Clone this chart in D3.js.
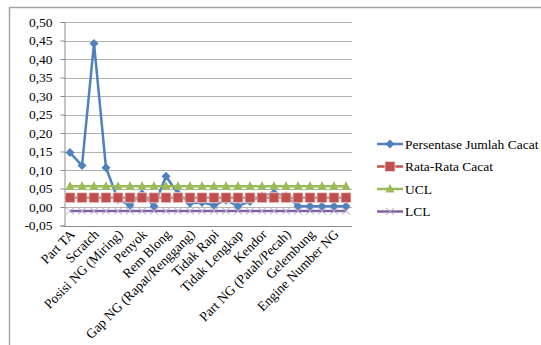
<!DOCTYPE html>
<html>
<head>
<meta charset="utf-8">
<script src="https://cdn.jsdelivr.net/npm/d3@7"></script>
<style>
  html, body { margin: 0; padding: 0; background: #fff; }
  svg { display: block; }
  svg text { font-family: "Liberation Serif", "DejaVu Serif", "Times New Roman", Times, serif !important; fill: #000; }
</style>
</head>
<body>
<svg id="chart" width="541" height="345"></svg>
<script>
// Defect categories (x axis)
const categories = [
  "Part TA", "Part TA 2", "Scratch", "Scratch 2", "Posisi NG (Miring)", "Posisi NG 2",
  "Penyok", "Penyok 2", "Rem Blong", "Rem Blong 2", "Gap NG (Rapat/Renggang)", "Gap NG 2",
  "Tidak Rapi", "Tidak Rapi 2", "Tidak Lengkap", "Tidak Lengkap 2", "Kendor", "Kendor 2",
  "Part NG (Patah/Pecah)", "Part NG 2", "Gelembung", "Gelembung 2", "Engine Number NG", "Engine Number NG 2"
];
// Only every other category carries a visible label
const shownLabels = ["Part TA", "Scratch", "Posisi NG (Miring)", "Penyok", "Rem Blong",
  "Gap NG (Rapat/Renggang)", "Tidak Rapi", "Tidak Lengkap", "Kendor",
  "Part NG (Patah/Pecah)", "Gelembung", "Engine Number NG"];

// Series values
const persentase = [0.147, 0.112, 0.442, 0.106, 0.020, 0.005, 0.036, 0.002, 0.083, 0.036, 0.010, 0.012,
                    0.005, 0.018, 0.003, 0.015, 0.030, 0.038, 0.030, 0.003, 0.002, 0.002, 0.002, 0.002];
const rataRata = categories.map(() => 0.025);
const ucl = categories.map(() => 0.056);
const lcl = categories.map(() => -0.011);

const yTicks = [-0.05, 0, 0.05, 0.10, 0.15, 0.20, 0.25, 0.30, 0.35, 0.40, 0.45, 0.50];

const series = [
  { name: "Persentase Jumlah Cacat", values: persentase, color: "#4f81bd", marker: "diamond" },
  { name: "Rata-Rata Cacat", values: rataRata, color: "#c0504d", marker: "square" },
  { name: "UCL", values: ucl, color: "#9bbb59", marker: "triangle" },
  { name: "LCL", values: lcl, color: "#8064a2", marker: "x" }
];

const FONT = "Liberation Serif";
const svg = d3.select("#chart");

// Outer chart frame
svg.append("rect")
  .attr("x", 9.5).attr("y", 7.5).attr("width", 600).attr("height", 400)
  .attr("fill", "#fff").attr("stroke", "#a6a6a6").attr("stroke-width", 1.5);

const plot = { left: 64, right: 352, top: 22, bottom: 225.5 };

const x = d3.scaleBand().domain(categories).range([plot.left, plot.right]);
const y = d3.scaleLinear().domain([-0.05, 0.5]).range([plot.bottom, plot.top]);
const cx = d => x(d) + x.bandwidth() / 2;

const fmt = v => d3.format(".2f")(v).replace(".", ",").replace("−", "-");

// Horizontal gridlines
svg.append("g").selectAll("line").data(yTicks).join("line")
  .attr("x1", plot.left).attr("x2", plot.right)
  .attr("y1", d => Math.round(y(d)) + 0.5).attr("y2", d => Math.round(y(d)) + 0.5)
  .attr("stroke", "#b3b3b3").attr("stroke-width", 1);

// Y axis
const yAxis = d3.axisLeft(y).tickValues(yTicks).tickFormat(fmt).tickSize(4).tickPadding(8);
const yg = svg.append("g").attr("transform", `translate(${plot.left + 0.5},0)`).call(yAxis)
  .attr("font-family", FONT);
yg.select(".domain").attr("stroke", "#8c8c8c");
yg.selectAll(".tick line").attr("stroke", "#8c8c8c");
yg.selectAll(".tick text").attr("font-size", 13.5).attr("font-family", FONT);

// X axis line at the bottom of the plot
svg.append("line")
  .attr("x1", plot.left).attr("x2", plot.right)
  .attr("y1", Math.round(plot.bottom) + 0.5).attr("y2", Math.round(plot.bottom) + 0.5)
  .attr("stroke", "#8c8c8c");

// Rotated category labels
svg.append("g").selectAll("text").data(categories.filter(c => shownLabels.includes(c))).join("text")
  .attr("transform", d => `translate(${cx(d) - 1},${plot.bottom + 3}) rotate(-45)`)
  .attr("text-anchor", "end")
  .attr("dy", "0.7em")
  .attr("font-family", FONT)
  .attr("font-size", 13.5)
  .text(d => d);

// Marker shapes
function drawMarker(g, type, color, px, py) {
  if (type === "diamond") {
    g.append("path").attr("d", `M${px},${py - 4.5}L${px + 4.5},${py}L${px},${py + 4.5}L${px - 4.5},${py}Z`)
      .attr("fill", color);
  } else if (type === "square") {
    g.append("rect").attr("x", px - 5).attr("y", py - 5).attr("width", 10).attr("height", 10)
      .attr("fill", color).attr("stroke", "#f2dcdb").attr("stroke-width", 0.8);
  } else if (type === "triangle") {
    g.append("path").attr("d", `M${px},${py - 5}L${px + 4.5},${py + 3.5}L${px - 4.5},${py + 3.5}Z`)
      .attr("fill", color);
  } else if (type === "x") {
    g.append("path").attr("d", `M${px - 4},${py - 3.5}L${px + 4},${py + 3.5}M${px - 4},${py + 3.5}L${px + 4},${py - 3.5}`)
      .attr("stroke", "#b7a6cc").attr("stroke-width", 1).attr("fill", "none");
  }
}

const line = d3.line().x((d, i) => cx(categories[i])).y(d => y(d));

// Series drawn in order; later series overlay earlier ones
series.forEach(s => {
  const g = svg.append("g");
  g.append("path").datum(s.values).attr("d", line)
    .attr("fill", "none").attr("stroke", s.color).attr("stroke-width", 2.5)
    .attr("stroke-linejoin", "round");
  s.values.forEach((v, i) => drawMarker(g, s.marker, s.color, cx(categories[i]), y(v)));
});

// Legend
const legend = svg.append("g");
series.forEach((s, i) => {
  const ly = 144 + i * 22.5;
  const g = legend.append("g");
  g.append("line").attr("x1", 377).attr("x2", 403).attr("y1", ly).attr("y2", ly)
    .attr("stroke", s.color).attr("stroke-width", 2.5);
  drawMarker(g, s.marker, s.color, 390, ly);
  g.append("text").attr("x", 405).attr("y", ly).attr("dy", "0.35em")
    .attr("font-family", FONT)
    .attr("font-size", 13.5).text(s.name);
});
</script>
</body>
</html>
